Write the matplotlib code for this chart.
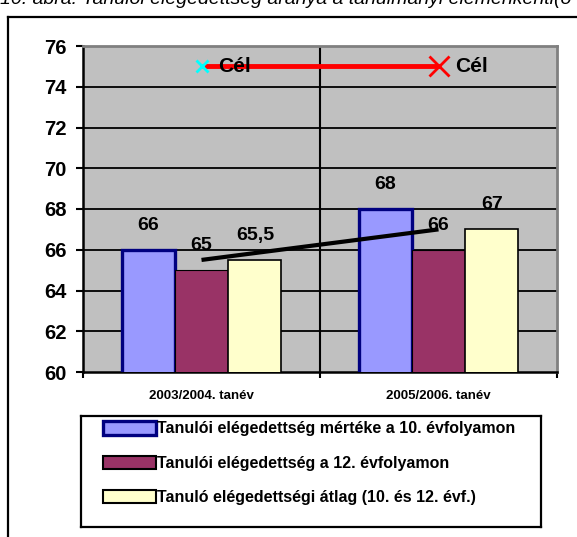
import matplotlib
matplotlib.use("Agg")
import matplotlib.pyplot as plt
from matplotlib.patches import Patch
import numpy as np

plt.rcParams['font.family'] = ['Liberation Sans', 'DejaVu Sans']

# ---- data ----
categories = ["2003/2004. tanév", "2005/2006. tanév"]
series_names = [
    "Tanulói elégedettség mértéke a 10. évfolyamon",
    "Tanulói elégedettség a 12. évfolyamon",
    "Tanuló elégedettségi átlag (10. és 12. évf.)",
]
ev10 = [66, 68]
ev12 = [65, 66]
atlag = [65.5, 67]
cel = [75, 75]
cel_label = "Cél"
bar_labels = [["66", "68"], ["65", "66"], ["65,5", "67"]]
y_ticks = [60, 62, 64, 66, 68, 70, 72, 74, 76]
caption = "10. ábra: Tanulói elégedettség aránya a tanulmányi elemenkénti(ö"

# ---- styles ----
W, H = 577, 537
fig = plt.figure(figsize=(W / 100, H / 100), dpi=100)

fills = ["#9999FF", "#993366", "#FFFFCC"]
edges = ["#000080", "#000000", "#000000"]
elws = [2.4, 0.8, 1.2]

ax = fig.add_axes([83 / W, 1 - 372 / H, 474 / W, 326 / H])
ax.set_facecolor("#C0C0C0")
ax.set_xlim(-0.5, 1.5)
ax.set_ylim(60, 76)

x = np.arange(len(categories))
bw = 0.225
series = [ev10, ev12, atlag]
for i, (vals, lab) in enumerate(zip(series, series_names)):
    xs = x + (i - 1) * bw
    ax.bar(xs, vals, width=bw, color=fills[i], edgecolor=edges[i],
           linewidth=elws[i], zorder=3, label=lab)
    for xi, v, t in zip(xs, vals, bar_labels[i]):
        ax.text(xi, v + 1.2, t, ha="center", va="center",
                fontsize=14, fontweight="bold", zorder=6)

# trend / average line
ax.plot(x, atlag, color="black", linewidth=3, zorder=5, solid_capstyle="butt")

# target line
ax.plot(x, cel, color="#FF0000", linewidth=3.5, zorder=4, solid_capstyle="butt")
marker_cols = ["#00FFFF", "#FF0000"]
marker_sizes = [9, 14]
for xi, v, mc, ms in zip(x, cel, marker_cols, marker_sizes):
    ax.plot([xi], [v], marker="x", color=mc, markersize=ms,
            markeredgewidth=2, zorder=5)
    ax.text(xi + 0.07, v, cel_label, ha="left", va="center",
            fontsize=15, fontweight="bold", zorder=6)

# grid
for yv in y_ticks[1:-1]:
    ax.axhline(yv, color="black", linewidth=1.3, zorder=1)
ax.axvline(0.5, color="black", linewidth=1.5, zorder=1)

# spines
for s in ["top", "right"]:
    ax.spines[s].set_color("#808080")
    ax.spines[s].set_linewidth(2)
for s in ["left", "bottom"]:
    ax.spines[s].set_color("black")
    ax.spines[s].set_linewidth(1.8)

ax.set_yticks(y_ticks)
ax.set_yticklabels([str(t) for t in y_ticks], fontsize=14.5, fontweight="bold")
ax.tick_params(axis="y", direction="out", length=5, width=1.5, pad=7)

ax.set_xticks([-0.5, 0.5, 1.5])
ax.set_xticklabels(["", "", ""])
ax.tick_params(axis="x", which="major", direction="out", length=4, width=1.5)
ax.set_xticks(x, minor=True)
ax.set_xticklabels(categories, minor=True, fontsize=9.5, fontweight="bold")
ax.tick_params(axis="x", which="minor", length=0, pad=13)

# legend box
lax = fig.add_axes([81 / W, 1 - 527 / H, 460 / W, 111 / H])
lax.set_xticks([])
lax.set_yticks([])
lax.set_facecolor("white")
for s in lax.spines.values():
    s.set_color("black")
    s.set_linewidth(1.6)
handles = [Patch(facecolor=fills[i], edgecolor=edges[i], linewidth=[2.4, 1.5, 1.5][i])
           for i in range(3)]
lax.legend(handles, series_names, loc="center left",
           bbox_to_anchor=(22 / 460, 0.575), frameon=False,
           prop={"size": 11.5, "weight": "bold"},
           handlelength=3.3, handleheight=0.9, handletextpad=0.1,
           labelspacing=1.2, borderpad=0, borderaxespad=0)

# outer frame lines
fig.add_artist(plt.Line2D([8 / W, 8 / W], [0, 1 - 17 / H], color="black",
                          linewidth=1.6, transform=fig.transFigure))
fig.add_artist(plt.Line2D([8 / W, 1], [1 - 17 / H, 1 - 17 / H], color="black",
                          linewidth=1.6, transform=fig.transFigure))

# caption at top (clipped by the page edge, as in the reference)
fig.text(0.0, 1 - 4 / H, caption, ha="left", va="baseline",
         fontsize=14, style="italic")

fig.savefig("out.png", dpi=100)
